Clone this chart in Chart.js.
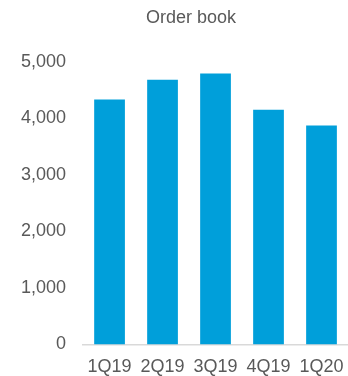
<!DOCTYPE html>
<html>
<head>
<meta charset="utf-8">
<script src="https://cdn.jsdelivr.net/npm/chart.js@4"></script>
<style>
  html, body { margin: 0; padding: 0; background: #fff; }
  #wrap { width: 348px; height: 376px; }
</style>
</head>
<body>
<div id="wrap"><canvas id="orderbook"></canvas></div>
<script>
var quarters = ['1Q19', '2Q19', '3Q19', '4Q19', '1Q20'];
var orderBook = [4330, 4680, 4790, 4150, 3870];
var yTicks = [0, 1000, 2000, 3000, 4000, 5000];

// nudge the title a bit right, like the original
var titleShift = {
  id: 'titleShift',
  afterLayout: function(chart) {
    var t = chart.titleBlock;
    if (t) { t.left += 15; t.right += 15; }
  }
};

var ctx = document.getElementById('orderbook');
new Chart(ctx, {
  type: 'bar',
  data: {
    labels: quarters,
    datasets: [{
      label: 'Order book',
      data: orderBook,
      backgroundColor: '#009FDA',
      borderWidth: 0,
      barPercentage: 0.58,
      categoryPercentage: 1
    }]
  },
  plugins: [titleShift],
  options: {
    responsive: true,
    maintainAspectRatio: false,
    animation: false,
    layout: { padding: { left: 4, right: 0, top: 0, bottom: -14 } },
    plugins: {
      legend: { display: false },
      tooltip: { enabled: false },
      title: {
        display: true,
        text: 'Order book',
        color: '#595959',
        font: { family: 'Liberation Sans, Arial, sans-serif', size: 18, weight: 'normal' },
        padding: { top: 7, bottom: 33 }
      }
    },
    scales: {
      x: {
        grid: { display: false, drawTicks: false },
        border: { display: true, color: '#D9D9D9', width: 1.5 },
        ticks: {
          color: '#595959',
          font: { family: 'Liberation Sans, Arial, sans-serif', size: 18, lineHeight: 2.09 },
          padding: 4,
          maxRotation: 0
        }
      },
      y: {
        min: 0,
        max: 5000,
        afterBuildTicks: function(axis) {
          axis.ticks = yTicks.map(function(v) { return { value: v }; });
        },
        grid: { display: false, drawTicks: false },
        border: { display: false },
        ticks: {
          color: '#595959',
          font: { family: 'Liberation Sans, Arial, sans-serif', size: 18 },
          padding: 17,
          callback: function(v) { return v.toLocaleString('en-US'); }
        }
      }
    }
  }
});
</script>
</body>
</html>
